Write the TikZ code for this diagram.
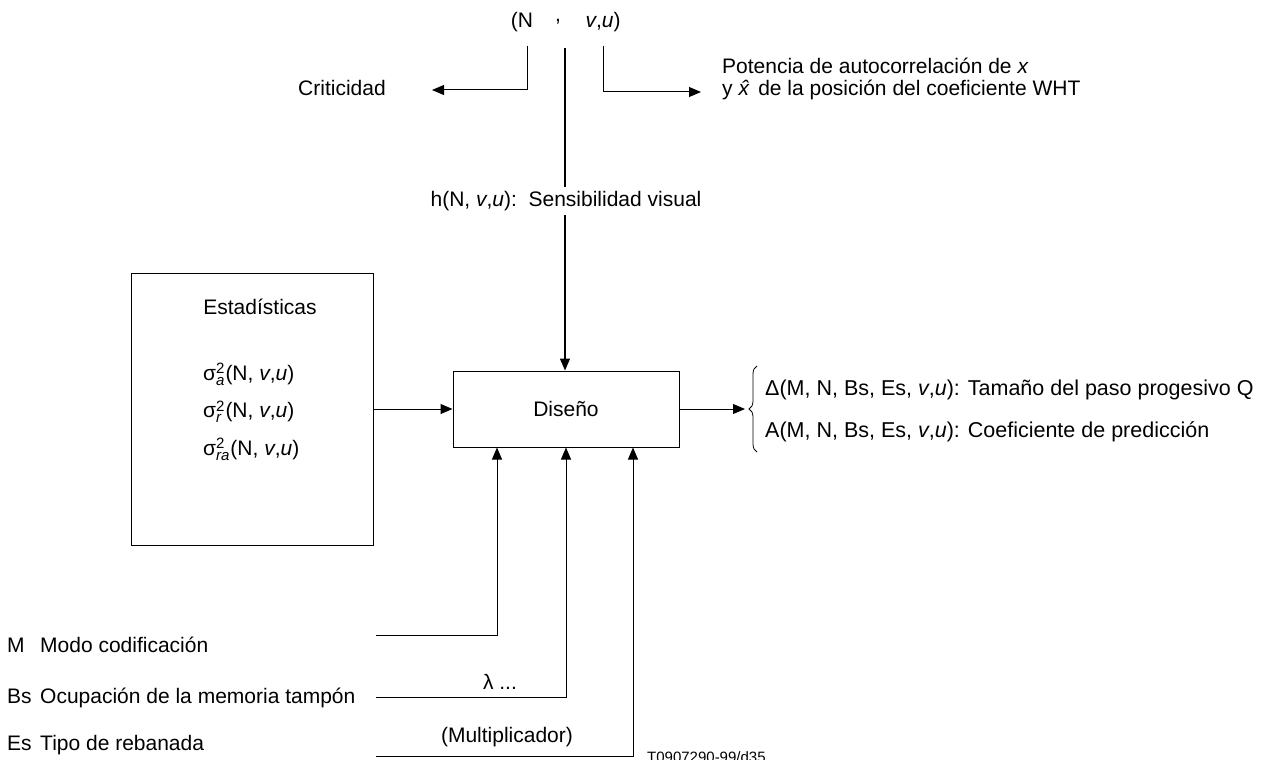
\documentclass[tikz,border=0pt]{standalone}
\usepackage{fontspec}
\setmainfont{Liberation Sans}
\usetikzlibrary{arrows.meta,positioning,decorations.pathreplacing}
\newcommand{\vu}{\textit{v},\textit{u}}
\newsavebox\supbox
\newsavebox\subbox
\newcommand{\sgm}[1]{\sbox\supbox{\fontsize{15}{15}\selectfont 2}%
  \sbox\subbox{\fontsize{15}{15}\selectfont\itshape #1}%
  σ\rlap{\raisebox{0.6ex}{\usebox\supbox}}\rlap{\raisebox{-0.45ex}{\usebox\subbox}}%
  \ifdim\wd\supbox>\wd\subbox\hspace{\wd\supbox}\else\hspace{\wd\subbox}\fi\hspace{1pt}}

\tikzset{
  lbl/.style={inner sep=0pt, font=\fontsize{21}{25}\selectfont},
  blk/.style={draw, line width=1pt, inner sep=0pt},
  arr/.style={line width=1pt, -{Triangle[length=12pt,width=10pt]}},
  wire/.style={line width=1pt}
}

\begin{document}
\begin{tikzpicture}[x=1pt,y=-1pt]
    \useasboundingbox (0,0) rectangle (1278,760);

    % Blocks
    \node[blk, minimum width=242pt, minimum height=272pt] (est) at (252,409) {};
    \node[blk, lbl, minimum width=226pt, minimum height=76pt] (dis) at (566,409) {Diseño};

    % Contents of the statistics block
    \node[lbl] (esttit) at (260,307) {Estadísticas};
    \node[lbl, anchor=west, align=left, font=\fontsize{21}{37.5}\selectfont] (sigs) at (203,412)
        {\sgm{a}(N, \vu)\\ \sgm{r}(N, \vu)\\ \sgm{ra}(N, \vu)};

    % Top indices
    \node[lbl] (parN) at (522,22) {(N};
    \node[lbl] (comma) at (558,22) {,};
    \node[lbl] (vuN) at (603,22) {\vu)};
    \coordinate (ntop) at (527,46);
    \coordinate (ctop) at (565,48);
    \coordinate (vtop) at (603,46);

    % Outputs at the top
    \node[lbl] (crit) at (342,88) {Criticidad};
    \coordinate (critend) at (432,90);
    \node[lbl, anchor=west] (pot1) at (722,66) {Potencia de autocorrelación de \textit{x}};
    \node[lbl, anchor=west] (pot2) at (722,90) {y \textit{x̂} de la posición del coeficiente WHT};
    \coordinate (potend) at (701,92);

    \draw[arr] (ntop) |- (critend);
    \draw[arr] (vtop) |- (potend);
    \draw[arr, line width=1.5pt] (ctop) -- (ctop |- dis.north);
    \node[lbl, fill=white, inner ysep=4pt] (hsens) at (566,201) {h(N, \vu):\ \ Sensibilidad visual};

    % Statistics into design
    \draw[arr] (est.east) -- (dis.west);

    % Output of the design block
    \coordinate (outend) at (745,409);
    \draw[arr] (dis.east) -- (outend);
    \coordinate (brbot) at (757,452);
    \coordinate (brtop) at (757,366);
    \draw[line width=0.8pt, decorate, decoration={brace, amplitude=8pt}] (brbot) -- (brtop);
    \node[lbl, anchor=west, font=\fontsize{21.5}{25}\selectfont] (delta) at (765,390) {Δ(M, N, Bs, Es, \vu): Tamaño del paso progesivo Q};
    \node[lbl, anchor=west, font=\fontsize{21.5}{25}\selectfont] (pred) at (765,432) {A(M, N, Bs, Es, \vu): Coeficiente de predicción};

    % Inputs at the bottom
    \node[lbl, anchor=base west] (mab) at (7,652) {M};
    \node[lbl, anchor=base west] (mtx) at (40,652) {Modo codificación};
    \node[lbl, anchor=base west] (bsab) at (7,703) {Bs};
    \node[lbl, anchor=base west] (bstx) at (40,703) {Ocupación de la memoria tampón};
    \node[lbl, anchor=base west] (esab) at (7,750) {Es};
    \node[lbl, anchor=base west] (estx) at (40,750) {Tipo de rebanada};
    \coordinate (min) at (376,635);
    \coordinate (bsin) at (376,697);
    \coordinate (esin) at (376,756);
    \draw[arr] (min) -| ([xshift=-69pt]dis.south);
    \draw[arr] (bsin) -| (dis.south);
    \draw[arr] (esin) -| ([xshift=67pt]dis.south);
    \node[lbl] (lam) at (500,682) {λ ...};
    \node[lbl] (mult) at (507,737) {(Multiplicador)};

    \node[inner sep=0pt, font=\fontsize{15}{17}\selectfont, anchor=west] (ref) at (647,757) {T0907290-99/d35};
\end{tikzpicture}
\end{document}
